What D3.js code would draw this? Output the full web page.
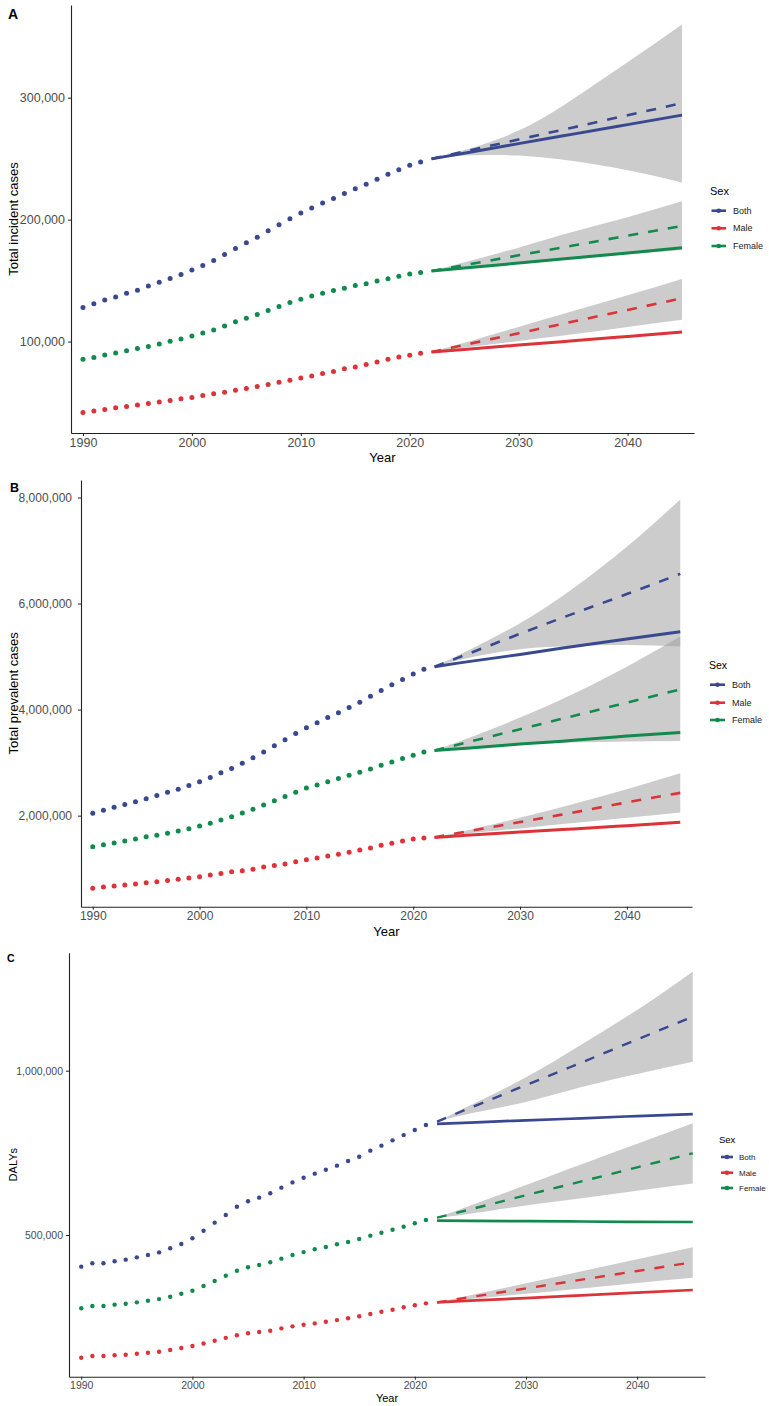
<!DOCTYPE html>
<html>
<head>
<meta charset="utf-8">
<script src="https://cdn.jsdelivr.net/npm/d3@7/dist/d3.min.js"></script>
<style>
  body { margin: 0; background: #fff; }
  svg { display: block; font-family: "Liberation Sans", Arial, Helvetica, sans-serif; }
  .tick text { fill: #4d4d4d; }
  .tick line, .domain { stroke: #222; }
</style>
</head>
<body>
<div id="chart"></div>
<script>
// observed years and projection years
const years = [1990, 1991, 1992, 1993, 1994, 1995, 1996, 1997, 1998, 1999, 2000, 2001, 2002, 2003, 2004, 2005,
  2006, 2007, 2008, 2009, 2010, 2011, 2012, 2013, 2014, 2015, 2016, 2017, 2018, 2019, 2020, 2021]
const projYears = [2022, 2025, 2030, 2035, 2040, 2045]
const xTicks = [1990, 2000, 2010, 2020, 2030, 2040]
const sexes = ['Both', 'Male', 'Female']
const colors = ['#39488f', '#dc3338', '#128a4e']

// A: incident cases
const incidentBoth = [128000, 131000, 134000, 136600, 139600, 142000, 145600, 148600, 151800, 155000, 158600, 162400, 166500, 171400, 176300, 181000,
  185600, 190800, 195700, 200800, 205500, 209600, 213600, 217400, 221500, 225300, 229100, 233200, 237300, 240800, 244600, 247300]
const incidentMale = [41900, 43000, 44300, 45700, 46800, 47900, 49200, 50400, 51700, 53100, 54100, 55800, 57100, 58500, 60100, 61500,
  63100, 64700, 66700, 68300, 70200, 71800, 73700, 75400, 77600, 79200, 81100, 83300, 85500, 87300, 88700, 90400]
const incidentFemale = [85400, 87000, 88900, 90600, 92500, 94400, 96000, 98000, 100200, 102000, 104500, 107000, 109400, 112700, 116200, 119200,
  122200, 125500, 128700, 132000, 134700, 137400, 139600, 141800, 143700, 145900, 147500, 149700, 151600, 153500, 155400, 156700]
const incidentBothLine = [249800, 254500, 262300, 270100, 277900, 285700]
const incidentBothDash = [249800, 255800, 265700, 275600, 285600, 295500]
const incidentBothLow = [249800, 252500, 252500, 248000, 240500, 230500]
const incidentBothHigh = [249800, 257000, 273000, 299000, 329000, 360000]
const incidentMaleLine = [91400, 93500, 97100, 100600, 104200, 107800]
const incidentMaleDash = [91400, 97200, 106800, 116400, 125900, 135500]
const incidentMaleLow = [91400, 95000, 100500, 106000, 112000, 117800]
const incidentMaleHigh = [91400, 99000, 112000, 125000, 138000, 151300]
const incidentFemaleLine = [157800, 160300, 164400, 168600, 172700, 176900]
const incidentFemaleDash = [157800, 162600, 170700, 178700, 186800, 194800]
const incidentFemaleLow = [157800, 160000, 164000, 168000, 171500, 175000]
const incidentFemaleHigh = [157800, 165000, 177000, 190000, 202000, 215000]

// B: prevalent cases
const prevalentBoth = [2045000, 2100000, 2160000, 2210000, 2260000, 2320000, 2380000, 2440000, 2500000, 2570000, 2640000, 2720000, 2810000, 2890000, 2990000, 3090000,
  3200000, 3320000, 3430000, 3550000, 3660000, 3750000, 3850000, 3940000, 4040000, 4140000, 4250000, 4360000, 4470000, 4570000, 4670000, 4760000]
const prevalentMale = [630000, 655000, 675000, 690000, 710000, 735000, 755000, 775000, 800000, 825000, 850000, 880000, 910000, 940000, 960000, 990000,
  1030000, 1060000, 1090000, 1130000, 1170000, 1200000, 1240000, 1270000, 1310000, 1350000, 1390000, 1440000, 1480000, 1520000, 1560000, 1580000]
const prevalentFemale = [1415000, 1450000, 1485000, 1520000, 1560000, 1600000, 1630000, 1670000, 1710000, 1755000, 1805000, 1855000, 1920000, 1980000, 2050000, 2120000,
  2200000, 2280000, 2360000, 2440000, 2520000, 2580000, 2640000, 2700000, 2760000, 2820000, 2880000, 2950000, 3010000, 3080000, 3140000, 3200000]
const prevalentBothLine = [4810000, 4900000, 5040000, 5190000, 5330000, 5470000]
const prevalentBothDash = [4810000, 5040000, 5430000, 5810000, 6180000, 6560000]
const prevalentBothLow = [4810000, 4970000, 5140000, 5200000, 5220000, 5190000]
const prevalentBothHigh = [4810000, 5100000, 5630000, 6290000, 7070000, 7960000]
const prevalentMaleLine = [1590000, 1630000, 1690000, 1750000, 1810000, 1875000]
const prevalentMaleDash = [1590000, 1700000, 1880000, 2060000, 2250000, 2430000]
const prevalentMaleLow = [1590000, 1660000, 1760000, 1860000, 1960000, 2060000]
const prevalentMaleHigh = [1590000, 1720000, 1960000, 2220000, 2500000, 2800000]
const prevalentFemaleLine = [3230000, 3270000, 3350000, 3420000, 3500000, 3570000]
const prevalentFemaleDash = [3230000, 3380000, 3630000, 3880000, 4130000, 4380000]
const prevalentFemaleLow = [3230000, 3280000, 3340000, 3380000, 3400000, 3410000]
const prevalentFemaleHigh = [3230000, 3450000, 3850000, 4300000, 4810000, 5380000]

// C: DALYs
const dalysBoth = [403600, 413800, 413800, 420000, 425000, 432000, 439000, 447000, 459600, 472600, 489900, 513000, 537500, 561000, 586000, 602500,
  613600, 627000, 644000, 660000, 674000, 686600, 698700, 711000, 725000, 738000, 756600, 771800, 788000, 804000, 819600, 834800]
const dalysMale = [126600, 131800, 131800, 133900, 135700, 138800, 141800, 144900, 150000, 156000, 162000, 170000, 178000, 187000, 195000, 201000,
  205000, 208800, 216000, 222000, 227000, 231000, 236000, 241000, 246500, 252600, 259600, 266600, 272700, 280000, 286000, 292000]
const dalysFemale = [276900, 284000, 284000, 288000, 291000, 295000, 300000, 305000, 312000, 321000, 330500, 344800, 360000, 376000, 391000, 401700,
  408700, 417000, 428000, 439000, 448000, 456500, 463500, 471700, 478700, 487800, 498000, 507000, 516000, 525000, 535600, 545600]
const dalysBothLine = [838000, 842000, 849000, 855000, 862000, 868000]
const dalysBothDash = [845000, 887000, 956000, 1025000, 1095000, 1164000]
const dalysBothLow = [845000, 870000, 905000, 950000, 990000, 1027000]
const dalysBothHigh = [845000, 895000, 980000, 1080000, 1185000, 1301000]
const dalysMaleLine = [295000, 300000, 308000, 316500, 324500, 332600]
const dalysMaleDash = [295000, 311000, 337500, 364000, 390500, 417000]
const dalysMaleLow = [295000, 305000, 321000, 337500, 354000, 370000]
const dalysMaleHigh = [295000, 317000, 353000, 390000, 426000, 462500]
const dalysFemaleLine = [543600, 543000, 542000, 541000, 540000, 539600]
const dalysFemaleDash = [552800, 578000, 621000, 663000, 706000, 748600]
const dalysFemaleLow = [552800, 565000, 590000, 612000, 635000, 657000]
const dalysFemaleHigh = [552800, 590000, 652000, 715000, 778000, 840000]

const panels = [
  {
    letter: 'A', yTitle: 'Total incident cases', yTicks: [100000, 200000, 300000], yDomain: [25000, 376000],
    hist: [incidentBoth, incidentMale, incidentFemale],
    proj: [
      [incidentBothLine, incidentBothDash, incidentBothLow, incidentBothHigh],
      [incidentMaleLine, incidentMaleDash, incidentMaleLow, incidentMaleHigh],
      [incidentFemaleLine, incidentFemaleDash, incidentFemaleLow, incidentFemaleHigh]],
    left: 71, right: 694, top: 5, bottom: 433, tickFont: 12.5, titleFont: 13,
    letterX: 8, letterY: 18.5, letterFont: 14, xTitleY: 462,
    r: 2.5, lw: 3, dw: 2.6,
    legend: { titleX: 710, titleY: 191, x1: 711.5, x2: 726, labelX: 733, rows: [210.7, 228.3, 246], titleFont: 11, labelFont: 9 }
  },
  {
    letter: 'B', yTitle: 'Total prevalent cases', yTicks: [2000000, 4000000, 6000000, 8000000], yDomain: [283000, 8330000],
    hist: [prevalentBoth, prevalentMale, prevalentFemale],
    proj: [
      [prevalentBothLine, prevalentBothDash, prevalentBothLow, prevalentBothHigh],
      [prevalentMaleLine, prevalentMaleDash, prevalentMaleLow, prevalentMaleHigh],
      [prevalentFemaleLine, prevalentFemaleDash, prevalentFemaleLow, prevalentFemaleHigh]],
    left: 81, right: 692, top: 480, bottom: 906.7, tickFont: 12, titleFont: 13,
    letterX: 10, letterY: 492, letterFont: 12.5, xTitleY: 936,
    r: 2.5, lw: 3, dw: 2.6, tickPad: 6,
    legend: { titleX: 709, titleY: 665, x1: 710, x2: 725, labelX: 732, rows: [684.7, 702.7, 720], titleFont: 10.5, labelFont: 9 }
  },
  {
    letter: 'C', yTitle: 'DALYs', yTicks: [500000, 1000000], yDomain: [68800, 1359000],
    hist: [dalysBoth, dalysMale, dalysFemale],
    proj: [
      [dalysBothLine, dalysBothDash, dalysBothLow, dalysBothHigh],
      [dalysMaleLine, dalysMaleDash, dalysMaleLow, dalysMaleHigh],
      [dalysFemaleLine, dalysFemaleDash, dalysFemaleLow, dalysFemaleHigh]],
    left: 69, right: 705, top: 952.7, bottom: 1376.7, tickFont: 10.5, titleFont: 11,
    letterX: 7, letterY: 962, letterFont: 10.5, xTitleY: 1402,
    r: 2.2, lw: 2.7, dw: 2.4,
    legend: { titleX: 719, titleY: 1140, x1: 721, x2: 733, labelX: 739, rows: [1157, 1172.7, 1188], titleFont: 9.5, labelFont: 8 }
  }
]

const svg = d3.select('#chart')
  .append('svg')
  .attr('width', 769)
  .attr('height', 1406)

panels.forEach(p => {
  const g = svg.append('g')
  const x = d3.scaleLinear().domain([1990 - 1.1, 2045 + 1.1]).range([p.left, p.right])
  const y = d3.scaleLinear().domain(p.yDomain).range([p.bottom, p.top])

  const projRows = p.proj.map(s => projYears.map((yr, i) => ({ year: yr, line: s[0][i], dash: s[1][i], lo: s[2][i], hi: s[3][i] })))

  // ribbons
  const area = d3.area()
    .x(d => x(d.year))
    .y0(d => y(d.lo))
    .y1(d => y(d.hi))
    .curve(d3.curveNatural)
  g.selectAll('.ribbon')
    .data(projRows)
    .enter()
      .append('path')
      .attr('class', 'ribbon')
      .attr('d', area)
      .attr('fill', '#999')
      .attr('fill-opacity', 0.5)

  // observed points
  p.hist.forEach((vals, si) => {
    g.selectAll('.pt' + si)
      .data(vals)
      .enter()
        .append('circle')
        .attr('cx', (d, i) => x(years[i]))
        .attr('cy', d => y(d))
        .attr('r', p.r)
        .attr('fill', colors[si])
  })

  // projections
  const lineOf = key => d3.line()
    .x(d => x(d.year))
    .y(d => y(d[key]))
    .curve(d3.curveNatural)
  projRows.forEach((rows, si) => {
    g.append('path')
      .attr('d', lineOf('line')(rows))
      .attr('fill', 'none')
      .attr('stroke', colors[si])
      .attr('stroke-width', p.lw)
    g.append('path')
      .attr('d', lineOf('dash')(rows))
      .attr('fill', 'none')
      .attr('stroke', colors[si])
      .attr('stroke-width', p.dw)
      .attr('stroke-dasharray', '10,10')
  })

  // axes
  const yAxis = g.append('g')
    .attr('transform', 'translate(' + p.left + ',0)')
    .call(d3.axisLeft(y).tickValues(p.yTicks).tickFormat(d3.format(',')).tickSize(3).tickSizeOuter(0).tickPadding(p.tickPad || 3))
  const xAxis = g.append('g')
    .attr('transform', 'translate(0,' + p.bottom + ')')
    .call(d3.axisBottom(x).tickValues(xTicks).tickFormat(d3.format('d')).tickSize(3).tickSizeOuter(0).tickPadding(2))
  ;[yAxis, xAxis].forEach(a => {
    a.selectAll('text').attr('font-size', p.tickFont).attr('font-family', null)
    a.select('.domain').attr('stroke-width', 1.1)
  })

  // titles
  g.append('text')
    .attr('x', (p.left + p.right) / 2)
    .attr('y', p.xTitleY)
    .attr('text-anchor', 'middle')
    .attr('font-size', p.titleFont)
    .text('Year')
  g.append('text')
    .attr('transform', 'translate(' + 13 + ',' + (p.top + p.bottom) / 2 + ') rotate(-90)')
    .attr('dy', '0.35em')
    .attr('text-anchor', 'middle')
    .attr('font-size', p.titleFont)
    .text(p.yTitle)
  g.append('text')
    .attr('x', p.letterX)
    .attr('y', p.letterY)
    .attr('font-size', p.letterFont)
    .attr('font-weight', 'bold')
    .text(p.letter)

  // legend
  const L = p.legend
  g.append('text')
    .attr('x', L.titleX)
    .attr('y', L.titleY)
    .attr('dy', '0.35em')
    .attr('font-size', L.titleFont)
    .text('Sex')
  sexes.forEach((s, i) => {
    g.append('line')
      .attr('x1', L.x1).attr('x2', L.x2)
      .attr('y1', L.rows[i]).attr('y2', L.rows[i])
      .attr('stroke', colors[i])
      .attr('stroke-width', 2.6)
    g.append('circle')
      .attr('cx', (L.x1 + L.x2) / 2)
      .attr('cy', L.rows[i])
      .attr('r', 2.3)
      .attr('fill', colors[i])
    g.append('text')
      .attr('x', L.labelX)
      .attr('y', L.rows[i])
      .attr('dy', '0.35em')
      .attr('font-size', L.labelFont)
      .attr('fill', '#222')
      .text(s)
  })
})
</script>
</body>
</html>
